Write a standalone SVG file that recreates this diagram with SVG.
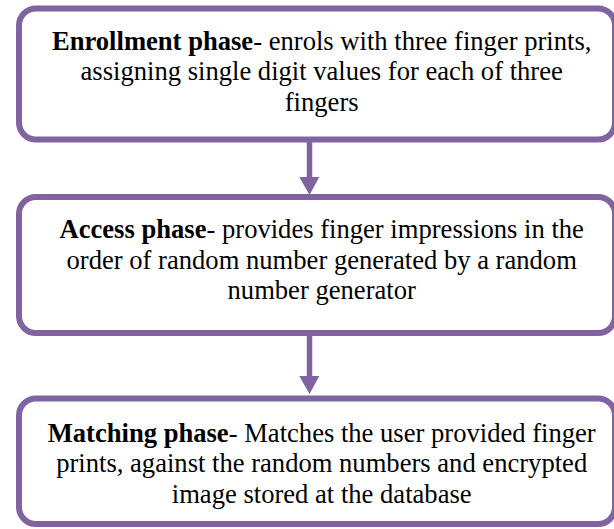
<svg xmlns="http://www.w3.org/2000/svg" width="614" height="529" viewBox="0 0 614 529">
  <style>
    .box { fill: #ffffff; stroke: #8064A2; stroke-width: 6; }
    .label { font-family: 'Liberation Serif', Tinos, 'Times New Roman', 'DejaVu Serif', serif; font-size: 26.6px; fill: #000000; text-anchor: middle; }
    .b { font-weight: bold; }
    .link { stroke: #8064A2; stroke-width: 5.5; fill: none; }
    .head { fill: #8064A2; }
  </style>
  <rect width="614" height="529" fill="#ffffff"/>

  <g id="connectors">
    <line class="link" x1="309.5" y1="140" x2="309.5" y2="178"/>
    <polygon class="head" points="299.3,177 319.3,177 309.5,195"/>
    <line class="link" x1="309.5" y1="333" x2="309.5" y2="377"/>
    <polygon class="head" points="299.3,376 319.3,376 309.5,394"/>
  </g>

  <g id="enrollment" font-family="Liberation Serif, serif">
    <rect class="box" x="19" y="8.5" width="596" height="131" rx="17"/>
    <text class="label" x="321.7" y="49.5"><tspan class="b">Enrollment phase</tspan>- enrols with three finger prints,</text>
    <text class="label" x="321.7" y="80">assigning single digit values for each of three</text>
    <text class="label" x="321.7" y="110.5">fingers</text>
  </g>

  <g id="access">
    <rect class="box" x="19" y="197" width="596" height="136" rx="17"/>
    <text class="label" x="321.7" y="238.3"><tspan class="b">Access phase</tspan>- provides finger impressions in the</text>
    <text class="label" x="321.7" y="268.8">order of random number generated by a random</text>
    <text class="label" x="321.7" y="299.3">number generator</text>
  </g>

  <g id="matching">
    <rect class="box" x="19" y="398.5" width="596" height="125.5" rx="17"/>
    <text class="label" x="321.7" y="441.5"><tspan class="b">Matching phase</tspan>- Matches the user provided finger</text>
    <text class="label" x="321.7" y="472">prints, against the random numbers and encrypted</text>
    <text class="label" x="321.7" y="502.5">image stored at the database</text>
  </g>
</svg>
